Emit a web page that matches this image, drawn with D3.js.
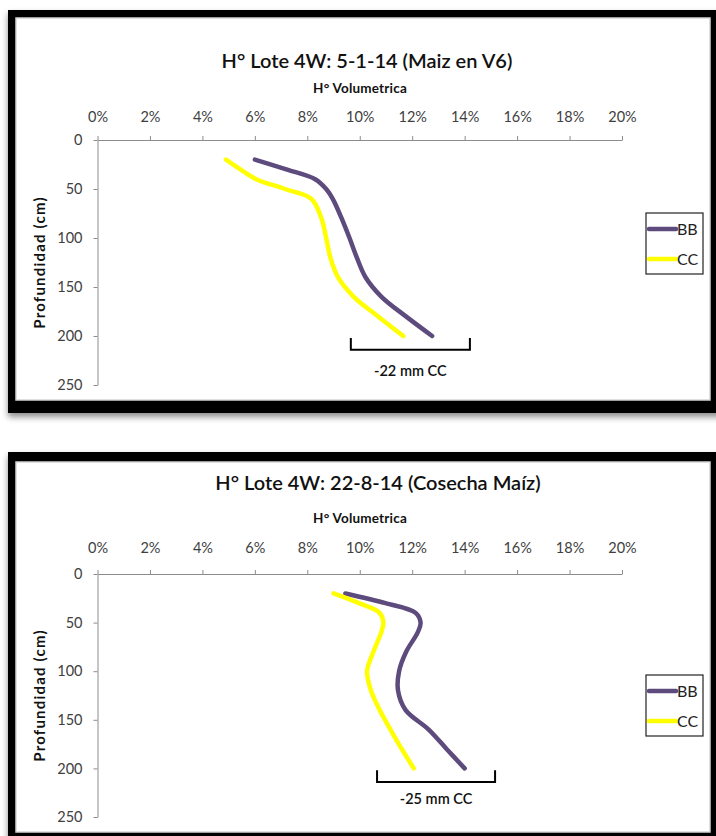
<!DOCTYPE html>
<html>
<head>
<meta charset="utf-8">
<script src="https://cdn.jsdelivr.net/npm/d3@7"></script>
<style>
  body { margin: 0; background: #fff; }
  svg { display: block; }
  text { font-family: Lato, "Liberation Sans", sans-serif; }
</style>
</head>
<body>
<svg id="page" width="716" height="836"></svg>
<script>
// Shared axes / series
const depths = [20, 30, 40, 50, 60, 80, 100, 120, 140, 160, 180, 200];
const xTicks = [0, 2, 4, 6, 8, 10, 12, 14, 16, 18, 20];
const yTicks = [0, 50, 100, 150, 200, 250];
const seriesNames = ["BB", "CC"];
const seriesColors = ["#5e4b7e", "#ffff00"];

// Chart 1: 5-1-14
const titleJan = "H° Lote 4W: 5-1-14 (Maiz en V6)";
const bbJan = [6.0, 7.2, 8.3, 8.72, 8.97, 9.31, 9.61, 9.89, 10.22, 10.83, 11.76, 12.76];
const ccJan = [4.9, 5.45, 6.05, 7.15, 8.15, 8.54, 8.72, 8.88, 9.17, 9.77, 10.7, 11.66];
const noteJan = "-22 mm CC";
const bracketJan = [9.66, 14.2];

// Chart 2: 22-8-14
const titleAug = "H° Lote 4W: 22-8-14 (Cosecha Maíz)";
const bbAug = [9.45, 10.98, 12.13, 12.32, 12.21, 11.77, 11.5, 11.46, 11.75, 12.63, 13.31, 14.0];
const ccAug = [9.0, 9.97, 10.76, 10.9, 10.82, 10.52, 10.28, 10.43, 10.76, 11.17, 11.6, 12.06];
const noteAug = "-25 mm CC";
const bracketAug = [10.66, 15.16];

const svg = d3.select("#page");

const defs = svg.append("defs");
const shadow = defs.append("filter").attr("id", "shadow")
    .attr("x", "-5%").attr("y", "-5%").attr("width", "110%").attr("height", "115%");
shadow.append("feDropShadow")
    .attr("dx", 0).attr("dy", 4).attr("stdDeviation", 3)
    .attr("flood-color", "#000").attr("flood-opacity", 0.45);

// draw one chart panel
function drawChart(cfg) {
    // black frame + white panel
    svg.append("rect")
        .attr("x", 8).attr("y", cfg.frameTop)
        .attr("width", 720).attr("height", cfg.frameBottom - cfg.frameTop)
        .attr("fill", "#000")
        .attr("filter", "url(#shadow)");
    svg.append("rect")
        .attr("x", 16).attr("y", cfg.panelTop)
        .attr("width", 694).attr("height", cfg.panelBottom - cfg.panelTop)
        .attr("fill", "#fff")
        .attr("stroke", "#d4d4d4").attr("stroke-width", 1.5);

    const x = d3.scaleLinear().domain([0, 20]).range([97.5, 622]);
    const y = d3.scaleLinear().domain([0, 250]).range([cfg.plotTop, cfg.plotBottom]);

    const g = svg.append("g");

    // top x axis
    const xAxis = g.append("g")
        .attr("transform", `translate(0,${cfg.plotTop})`)
        .call(d3.axisTop(x).tickValues(xTicks).tickFormat(d => d + "%")
            .tickSize(4).tickSizeOuter(0).tickPadding(cfg.xPad));
    // left y axis
    const yAxis = g.append("g")
        .attr("transform", `translate(${x(0)},0)`)
        .call(d3.axisLeft(y).tickValues(yTicks)
            .tickSize(4).tickSizeOuter(0).tickPadding(11));

    [xAxis, yAxis].forEach(a => {
        a.select(".domain").attr("stroke", "#8c8c8c");
        a.selectAll(".tick line").attr("stroke", "#8c8c8c");
        a.selectAll(".tick text")
            .attr("fill", "#404040")
            .style("font-size", "14.5px")
            .style("font-family", "Lato, sans-serif");
    });

    // titles
    g.append("text")
        .attr("x", cfg.titleX).attr("y", cfg.titleY)
        .attr("text-anchor", "middle")
        .style("font-size", "20px").style("font-weight", 600)
        .attr("fill", "#111")
        .text(cfg.title);
    g.append("text")
        .attr("x", 360).attr("y", cfg.subY)
        .attr("text-anchor", "middle")
        .style("font-size", "13.5px").style("font-weight", "bold")
        .style("letter-spacing", "0.2px")
        .attr("fill", "#111")
        .text("H° Volumetrica");
    g.append("text")
        .attr("transform", `translate(45,${(cfg.plotTop + cfg.plotBottom) / 2}) rotate(-90)`)
        .attr("text-anchor", "middle")
        .style("font-size", "15px").style("font-weight", "bold")
        .style("letter-spacing", "1.2px")
        .attr("fill", "#111")
        .text("Profundidad (cm)");

    // lines
    const line = d3.line()
        .x(d => x(d[0]))
        .y(d => y(d[1]))
        .curve(d3.curveCatmullRom.alpha(0.5));

    cfg.series.forEach((vals, i) => {
        g.append("path")
            .datum(vals.map((v, j) => [v, depths[j]]))
            .attr("d", line)
            .attr("fill", "none")
            .attr("stroke", seriesColors[i])
            .attr("stroke-width", 4.5)
            .attr("stroke-linecap", "round")
            .attr("stroke-linejoin", "round");
    });

    // bracket annotation
    const b0 = x(cfg.bracket[0]), b1 = x(cfg.bracket[1]);
    g.append("path")
        .attr("d", `M${b0},${y(202)}V${y(214)}H${b1}V${y(202)}`)
        .attr("fill", "none").attr("stroke", "#000").attr("stroke-width", 2);
    g.append("text")
        .attr("x", (b0 + b1) / 2).attr("y", y(cfg.noteDepth))
        .attr("dy", "0.35em")
        .attr("text-anchor", "middle")
        .style("font-size", "14.5px").style("font-weight", 600)
        .attr("fill", "#111")
        .text(cfg.note);

    // legend
    const lg = g.append("g").attr("transform", `translate(646,${cfg.legendTop})`);
    lg.append("rect")
        .attr("width", 57).attr("height", 61)
        .attr("fill", "#fff").attr("stroke", "#222").attr("stroke-width", 1.2);
    seriesNames.forEach((name, i) => {
        const ly = 16 + i * 30;
        lg.append("line")
            .attr("x1", 3).attr("x2", 30).attr("y1", ly).attr("y2", ly)
            .attr("stroke", seriesColors[i]).attr("stroke-width", 4.5)
            .attr("stroke-linecap", "round");
        lg.append("text")
            .attr("x", 31).attr("y", ly).attr("dy", "0.36em")
            .style("font-size", "16px")
            .attr("fill", "#222")
            .text(name);
    });
}

drawChart({
    frameTop: 10, frameBottom: 413, panelTop: 18, panelBottom: 400,
    plotTop: 140, plotBottom: 385, xPad: 14,
    titleX: 367, titleY: 68, subY: 93,
    title: titleJan, series: [bbJan, ccJan],
    bracket: bracketJan, note: noteJan, noteDepth: 236,
    legendTop: 213
});

drawChart({
    frameTop: 452, frameBottom: 850, panelTop: 462, panelBottom: 832,
    plotTop: 574, plotBottom: 817, xPad: 17,
    titleX: 378, titleY: 490, subY: 523,
    title: titleAug, series: [bbAug, ccAug],
    bracket: bracketAug, note: noteAug, noteDepth: 231,
    legendTop: 675
});
</script>
</body>
</html>
